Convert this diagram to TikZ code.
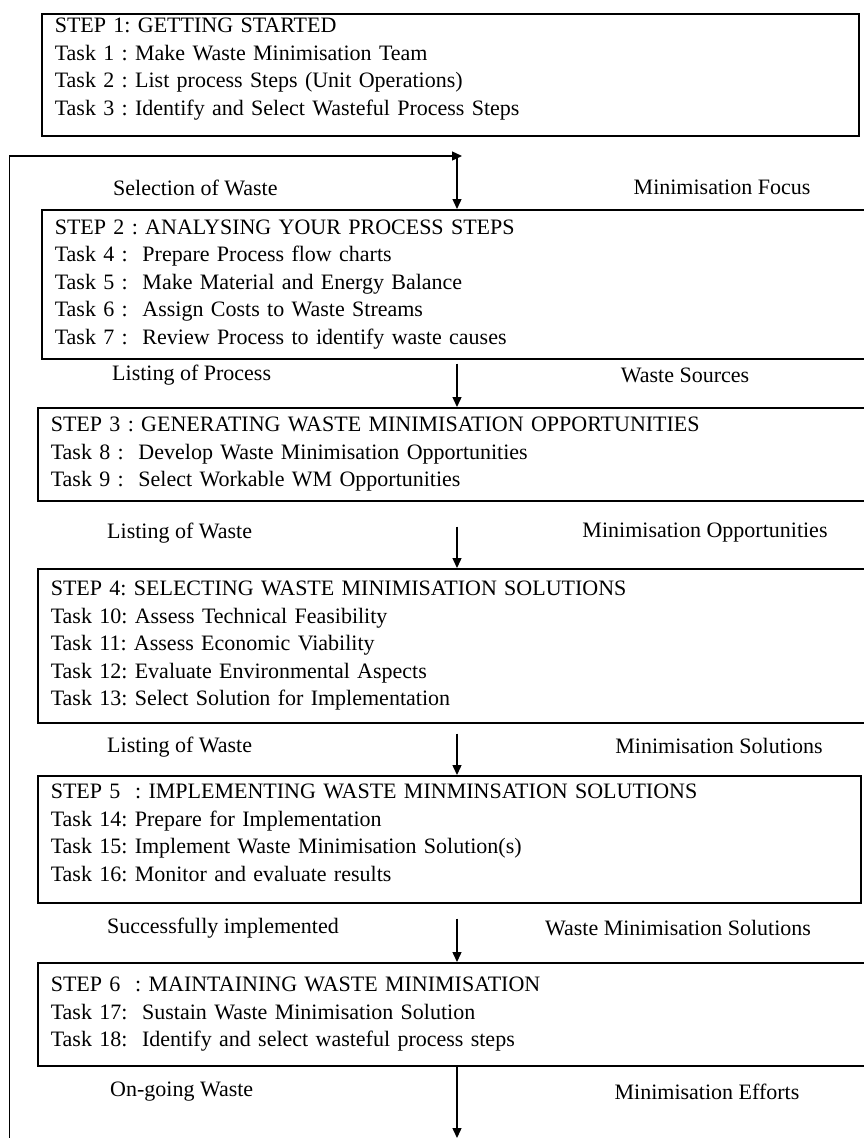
\documentclass[tikz,border=0pt]{standalone}
\usepackage{fontspec}
\setmainfont{Liberation Serif}
\usetikzlibrary{arrows.meta}
\frenchspacing

\begin{document}
\begin{tikzpicture}[
  x=1pt, y=-1pt,
  stepbox/.style={draw, line width=1.6pt, anchor=north west, inner xsep=13pt,
    inner ysep=0pt, align=left, font=\fontsize{22}{27.5}\selectfont},
  lbl/.style={inner sep=0pt, font=\fontsize{22}{26}\selectfont},
  lbll/.style={lbl, anchor=west},
  flow/.style={line width=1.4pt, -{Triangle[length=10pt,width=9pt]}}
]
\clip (0,0) rectangle (864,1138);
\fill[white] (0,0) rectangle (864,1138);

% the six steps
\node[stepbox, text width=791pt, minimum height=122pt] (s1) at (41,13) {%
STEP 1: GETTING STARTED\\
Task 1 : Make Waste Minimisation Team\\
Task 2 : List process Steps (Unit Operations)\\
Task 3 : Identify and Select Wasteful Process Steps\rule[-16pt]{0pt}{16pt}};

\node[stepbox, text width=801pt, minimum height=149pt] (s2) at (41,209) {%
STEP 2 : ANALYSING YOUR PROCESS STEPS\\
Task 4 :~ Prepare Process flow charts\\
Task 5 :~ Make Material and Energy Balance\\
Task 6 :~ Assign Costs to Waste Streams\\
Task 7 :~ Review Process to identify waste causes};

\node[stepbox, text width=805pt, minimum height=93pt] (s3) at (37,407) {%
STEP 3 : GENERATING WASTE MINIMISATION OPPORTUNITIES\\
Task 8 :~ Develop Waste Minimisation Opportunities\\
Task 9 :~ Select Workable WM Opportunities};

\node[stepbox, text width=805pt, minimum height=154pt] (s4) at (37,568) {%
STEP 4: SELECTING WASTE MINIMISATION SOLUTIONS\\
Task 10: Assess Technical Feasibility\\
Task 11: Assess Economic Viability\\
Task 12: Evaluate Environmental Aspects\\
Task 13: Select Solution for Implementation};

\node[stepbox, text width=797pt, minimum height=127pt] (s5) at (37,775) {%
STEP 5~ : IMPLEMENTING WASTE MINMINSATION SOLUTIONS\\
Task 14: Prepare for Implementation\\
Task 15: Implement Waste Minimisation Solution(s)\\
Task 16: Monitor and evaluate results\rule[-13pt]{0pt}{13pt}};

\node[stepbox, text width=805pt, minimum height=103pt] (s6) at (37,962) {%
STEP 6~ : MAINTAINING WASTE MINIMISATION\\
Task 17:~ Sustain Waste Minimisation Solution\\
Task 18:~ Identify and select wasteful process steps};

% captions between the steps
\node[lbll] (a1) at (113,188) {Selection of Waste};
\node[lbl]  (b1) at (722,187) {Minimisation Focus};
\node[lbll] (a2) at (112,375) {Listing of Process};
\node[lbl]  (b2) at (685,375) {Waste Sources};
\node[lbll] (a3) at (107,533) {Listing of Waste};
\node[lbl]  (b3) at (705,533) {Minimisation Opportunities};
\node[lbll] (a4) at (107,747) {Listing of Waste};
\node[lbl]  (b4) at (719,746) {Minimisation Solutions};
\node[lbll] (a5) at (107,928) {Successfully implemented};
\node[lbl]  (b5) at (678,928) {Waste Minimisation Solutions};
\node[lbll] (a6) at (110,1092) {On-going Waste};
\node[lbl]  (b6) at (707,1092) {Minimisation Efforts};

% flow arrows down the middle and the return loop on the left
\coordinate (axis) at (457,0);
\coordinate (loopfoot) at (9.5,1138);
\coordinate (join) at (457,156);
\coordinate (jointip) at (462,156);
\coordinate (exit) at (457,1138);

\draw[flow] (loopfoot) |- (jointip);
\draw[flow] (join) -- (s2.north -| axis);
\draw[flow, shorten <=4pt]  (s2.south -| axis) -- (s3.north -| axis);
\draw[flow, shorten <=25pt] (s3.south -| axis) -- (s4.north -| axis);
\draw[flow, shorten <=10pt] (s4.south -| axis) -- (s5.north -| axis);
\draw[flow, shorten <=15pt] (s5.south -| axis) -- (s6.north -| axis);
\draw[flow] (s6.south -| axis) -- (exit);
\end{tikzpicture}
\end{document}
